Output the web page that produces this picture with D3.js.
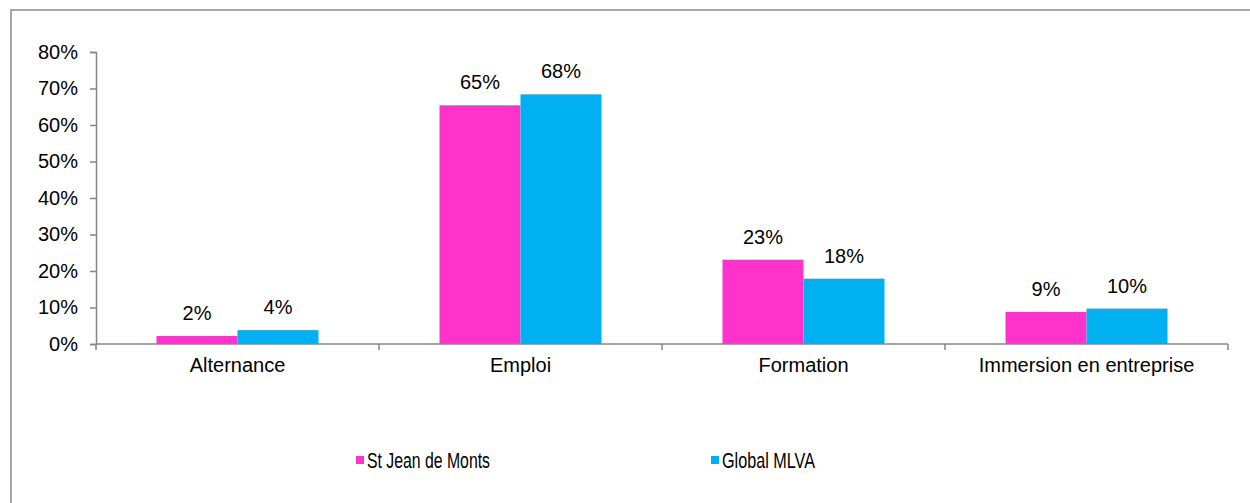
<!DOCTYPE html>
<html><head><meta charset="utf-8">
<script src="https://cdn.jsdelivr.net/npm/d3@7"></script>
<style>body{margin:0;background:#fff}svg{display:block}text{font-family:"Liberation Sans",Arial,sans-serif;fill:#000}</style>
</head><body>
<svg id="c" width="1250" height="503"></svg>
<script>
const categories = ["Alternance", "Emploi", "Formation", "Immersion en entreprise"];
const seriesNames = ["St Jean de Monts", "Global MLVA"];
const stJean = [2.2, 65.4, 23.1, 8.8];
const globalMLVA = [3.8, 68.4, 17.9, 9.7];
const labelsStJean = ["2%", "65%", "23%", "9%"];
const labelsGlobal = ["4%", "68%", "18%", "10%"];
const yTicks = [0, 10, 20, 30, 40, 50, 60, 70, 80];
const colors = ["#FF33CC", "#00B0F0"];

const svg = d3.select("#c");
svg.append("rect").attr("x", 11).attr("y", 10).attr("width", 1260).attr("height", 520)
  .attr("fill", "none").attr("stroke", "#8c8c8c").attr("stroke-width", 1.5);

const x0 = 96, x1 = 1228, yTop = 52, yBot = 344;
const x = d3.scaleBand().domain(categories).range([x0, x1]).paddingInner(0).paddingOuter(0);
const y = d3.scaleLinear().domain([0, 80]).range([yBot, yTop]);
const xs = d3.scaleBand().domain([0, 1]).range([0, x.bandwidth()]).paddingOuter(0.747).paddingInner(0);

const series = [stJean, globalMLVA];
const labels = [labelsStJean, labelsGlobal];
series.forEach((vals, si) => {
  svg.append("g").selectAll("rect").data(vals).join("rect")
    .attr("x", (d, i) => x(categories[i]) + xs(si))
    .attr("y", d => y(d))
    .attr("width", xs.bandwidth())
    .attr("height", d => yBot - y(d))
    .attr("fill", colors[si]);
  svg.append("g").selectAll("text").data(vals).join("text")
    .attr("x", (d, i) => x(categories[i]) + xs(si) + xs.bandwidth() / 2)
    .attr("y", d => y(d) - 16)
    .attr("text-anchor", "middle").attr("font-size", 20)
    .text((d, i) => labels[si][i]);
});

// y axis
const ya = svg.append("g").attr("transform", `translate(${x0},0)`)
  .call(d3.axisLeft(y).tickValues(yTicks).tickSize(6).tickPadding(12).tickFormat(d => d + "%"));
ya.selectAll("text").attr("font-size", 20).attr("font-family", "Liberation Sans, Arial, sans-serif").attr("fill", "#000");
ya.selectAll("line,path").attr("stroke", "#868686").attr("stroke-width", 1.5);

// x axis
const xa = svg.append("g").attr("transform", `translate(0,${yBot})`)
  .call(d3.axisBottom(x).tickSize(0).tickPadding(14));
xa.selectAll("text").attr("font-size", 20).attr("font-family", "Liberation Sans, Arial, sans-serif").attr("fill", "#000").attr("dy", "0.71em");
xa.select("path").attr("d", `M${x0},0H${x1}`).attr("stroke", "#868686").attr("stroke-width", 1.5);
const bounds = [x0].concat(categories.map(c => x(c) + x.bandwidth()));
xa.selectAll("line.sep").data(bounds).join("line").attr("class", "sep")
  .attr("x1", d => d).attr("x2", d => d).attr("y1", 0).attr("y2", 6)
  .attr("stroke", "#868686").attr("stroke-width", 1.5);

// legend
const legX = [356, 711];
const legW = [123, 93];
seriesNames.forEach((n, i) => {
  svg.append("rect").attr("x", legX[i]).attr("y", 456).attr("width", 8).attr("height", 8).attr("fill", colors[i]);
  svg.append("text").attr("x", legX[i] + 11).attr("y", 468).attr("font-size", 22)
    .attr("textLength", legW[i]).attr("lengthAdjust", "spacingAndGlyphs").text(n);
});
</script>
</body></html>
